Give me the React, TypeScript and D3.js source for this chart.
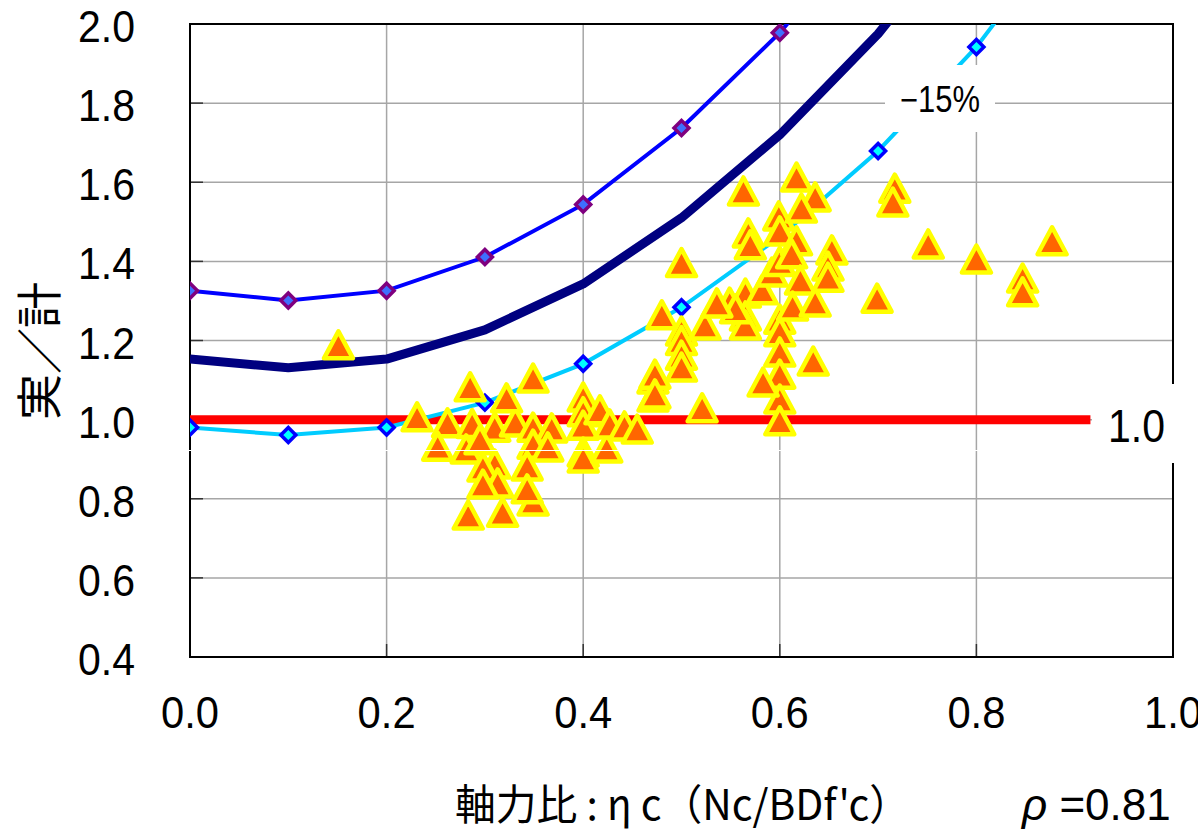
import React from "react";
import * as d3 from "d3";

// ---- data ----
const etaGrid = [0, 0.1, 0.2, 0.3, 0.4, 0.5, 0.6, 0.7, 0.8, 0.9];
const upperRatio = [1.326, 1.301, 1.326, 1.411, 1.544, 1.737, 1.978, 2.271];
const designRatio = [1.153, 1.131, 1.153, 1.227, 1.343, 1.51, 1.72, 1.975, 2.285];
const lowerRatio = [0.98, 0.961, 0.98, 1.043, 1.141, 1.284, 1.462, 1.679, 1.942, 2.27];

const refLineEta = [0, 0.916];
const refLineRatio = [1.0, 1.0];

const obsEta = [
  0.151, 0.231, 0.262, 0.252, 0.287, 0.281, 0.285, 0.310, 0.331, 0.322,
  0.349, 0.368, 0.349, 0.364, 0.310, 0.298, 0.343, 0.313, 0.298, 0.349,
  0.343, 0.283, 0.318, 0.349, 0.295, 0.400, 0.400, 0.400, 0.400, 0.400,
  0.417, 0.424, 0.427, 0.442, 0.455, 0.471, 0.471, 0.480, 0.473, 0.473,
  0.500, 0.500, 0.500, 0.500, 0.500, 0.524, 0.521, 0.549, 0.563, 0.568,
  0.570, 0.565, 0.582, 0.565, 0.565, 0.592, 0.600, 0.599, 0.600, 0.600,
  0.600, 0.600, 0.600, 0.600, 0.600, 0.583, 0.617, 0.636, 0.622, 0.617,
  0.612, 0.621, 0.613, 0.636, 0.634, 0.653, 0.649, 0.649, 0.699, 0.717,
  0.715, 0.751, 0.800, 0.847, 0.847, 0.877, 0.555, 0.536,
];
const obsRatio = [
  1.189, 1.007, 0.992, 0.933, 0.990, 0.926, 1.083, 0.981, 0.994, 1.055,
  0.981, 0.979, 0.938, 0.931, 0.888, 0.880, 0.883, 0.840, 0.837, 0.794,
  0.825, 0.759, 0.766, 1.105, 0.949, 1.057, 1.020, 0.986, 0.918, 0.903,
  1.025, 0.928, 0.989, 0.984, 0.976, 1.103, 1.057, 1.265, 1.115, 1.065,
  1.397, 1.224, 1.200, 1.163, 1.133, 1.239, 1.030, 1.297, 1.578, 1.472,
  1.442, 1.320, 1.328, 1.262, 1.239, 1.373, 1.400, 1.515, 1.477, 1.254,
  1.222, 1.171, 1.115, 1.052, 0.997, 1.095, 1.613, 1.563, 1.535, 1.452,
  1.419, 1.353, 1.287, 1.297, 1.148, 1.429, 1.388, 1.360, 1.307, 1.585,
  1.550, 1.444, 1.406, 1.358, 1.323, 1.452, 1.280, 1.295,
];

const xTicks = [0, 0.2, 0.4, 0.6, 0.8, 1.0];
const yTicks = [0.4, 0.6, 0.8, 1.0, 1.2, 1.4, 1.6, 1.8, 2.0];

// ---- layout ----
const W = 1198;
const H = 830;
const L = 190, R = 1173, T = 24, B = 657;

const x = d3.scaleLinear().domain([0, 1]).range([L, R]);
const y = d3.scaleLinear().domain([0.4, 2.0]).range([B, T]);

const latin = "'Liberation Sans', Arial, sans-serif";
const cjk = "'Noto Sans CJK JP', sans-serif";

function linePath(xs: number[], ys: number[]) {
  const pts = ys.map((v, i) => [xs[i], v] as [number, number]);
  return d3.line<[number, number]>().x((d) => x(d[0])).y((d) => y(d[1]))(pts) || "";
}

const triShape = d3.line<[number, number]>()([[0, -13.5], [14.5, 13.5], [-14.5, 13.5]]) + "Z";
const diamond = d3.line<[number, number]>()([[0, -7.5], [7.5, 0], [0, 7.5], [-7.5, 0]]) + "Z";

export default function App() {
  return (
    <svg
      width={W}
      height={H}
      viewBox={`0 0 ${W} ${H}`}
      style={{ position: "absolute", left: 0, top: 0, background: "#fff" }}
    >
      <defs>
        <clipPath id="plotClip">
          <rect x={L} y={T} width={R - L} height={B - T} />
        </clipPath>
      </defs>
      <rect x={0} y={0} width={W} height={H} fill="#fff" />

      {/* grid */}
      {yTicks.filter((t) => t > 0.4 && t < 2.0).map((t) => (
        <line key={"gy" + t} x1={L} x2={R} y1={y(t)} y2={y(t)} stroke="#a6a6a6" strokeWidth={1.5} />
      ))}
      {xTicks.filter((t) => t > 0 && t < 1).map((t) => (
        <line key={"gx" + t} x1={x(t)} x2={x(t)} y1={T} y2={B} stroke="#a6a6a6" strokeWidth={1.5} />
      ))}

      {/* ticks inward */}
      {yTicks.map((t) => (
        <line key={"ty" + t} x1={L} x2={L + 13} y1={y(t)} y2={y(t)} stroke="#333" strokeWidth={1.5} />
      ))}
      {xTicks.map((t) => (
        <line key={"tx" + t} x1={x(t)} x2={x(t)} y1={B} y2={B - 13} stroke="#333" strokeWidth={1.5} />
      ))}

      {/* border */}
      <rect x={L} y={T} width={R - L} height={B - T} fill="none" stroke="#000" strokeWidth={2} />

      <g clipPath="url(#plotClip)">
        <path d={linePath(refLineEta, refLineRatio)} stroke="#ff0000" strokeWidth={9} fill="none" />
        <path d={linePath(etaGrid, upperRatio)} stroke="#0000ff" strokeWidth={4} fill="none" />
        <path d={linePath(etaGrid, designRatio)} stroke="#000080" strokeWidth={9} fill="none" strokeLinejoin="round" />
        <path d={linePath(etaGrid, lowerRatio)} stroke="#00ccff" strokeWidth={4} fill="none" />
        {upperRatio.map((v, i) => (
          <path key={"ud" + i} d={diamond} transform={`translate(${x(etaGrid[i])},${y(v)})`}
            fill="#3f6fff" stroke="#7f007f" strokeWidth={3.5} />
        ))}
        {lowerRatio.map((v, i) => (
          <path key={"ld" + i} d={diamond} transform={`translate(${x(etaGrid[i])},${y(v)})`}
            fill="#00ffff" stroke="#0000ff" strokeWidth={3.5} />
        ))}
        {obsRatio.map((v, i) => (
          <path key={"ob" + i} d={triShape} transform={`translate(${x(obsEta[i])},${y(v)})`}
            fill="#ff6600" stroke="#ffff00" strokeWidth={4.5} strokeLinejoin="round" />
        ))}
      </g>

      {/* thin white artifact line */}
      <line x1={L - 4} x2={R + 4} y1={450.5} y2={450.5} stroke="#fff" strokeWidth={1} />

      {/* -15% label */}
      <rect x={885} y={65} width={110} height={67} fill="#fff" />
      <text x={900} y={112} fontFamily={latin} fontSize={36} textLength={80} lengthAdjust="spacingAndGlyphs" fill="#000">−15%</text>

      {/* 1.0 label */}
      <rect x={1092} y={384} width={106} height={79} fill="#fff" />
      <text x={1108} y={442} fontFamily={latin} fontSize={47} textLength={57} lengthAdjust="spacingAndGlyphs" fill="#000">1.0</text>

      {/* y tick labels */}
      {yTicks.map((t) => (
        <text key={"yl" + t} x={135} y={y(t) + 18} textAnchor="end" fontFamily={latin} fontSize={45}
          textLength={57} lengthAdjust="spacingAndGlyphs" fill="#000">{t.toFixed(1)}</text>
      ))}
      {/* x tick labels */}
      {xTicks.map((t) => (
        <text key={"xl" + t} x={x(t)} y={728} textAnchor="middle" fontFamily={latin} fontSize={44}
          textLength={58} lengthAdjust="spacingAndGlyphs" fill="#000">{t.toFixed(1)}</text>
      ))}

      {/* axis titles */}
      <text transform="translate(56,351) rotate(-90)" textAnchor="middle" fontFamily={cjk} fontSize={46} fill="#000">実／計</text>
      <text x={455} y={820} fontFamily={cjk} fontSize={42} textLength={455} lengthAdjust="spacingAndGlyphs" fill="#000">軸力比 : η c（Nc/BDf'c）</text>
      <text x={1022} y={820} fontFamily={latin} fontSize={44} fill="#000">
        <tspan fontStyle="italic">ρ</tspan>
        <tspan> =0.81</tspan>
      </text>
    </svg>
  );
}
